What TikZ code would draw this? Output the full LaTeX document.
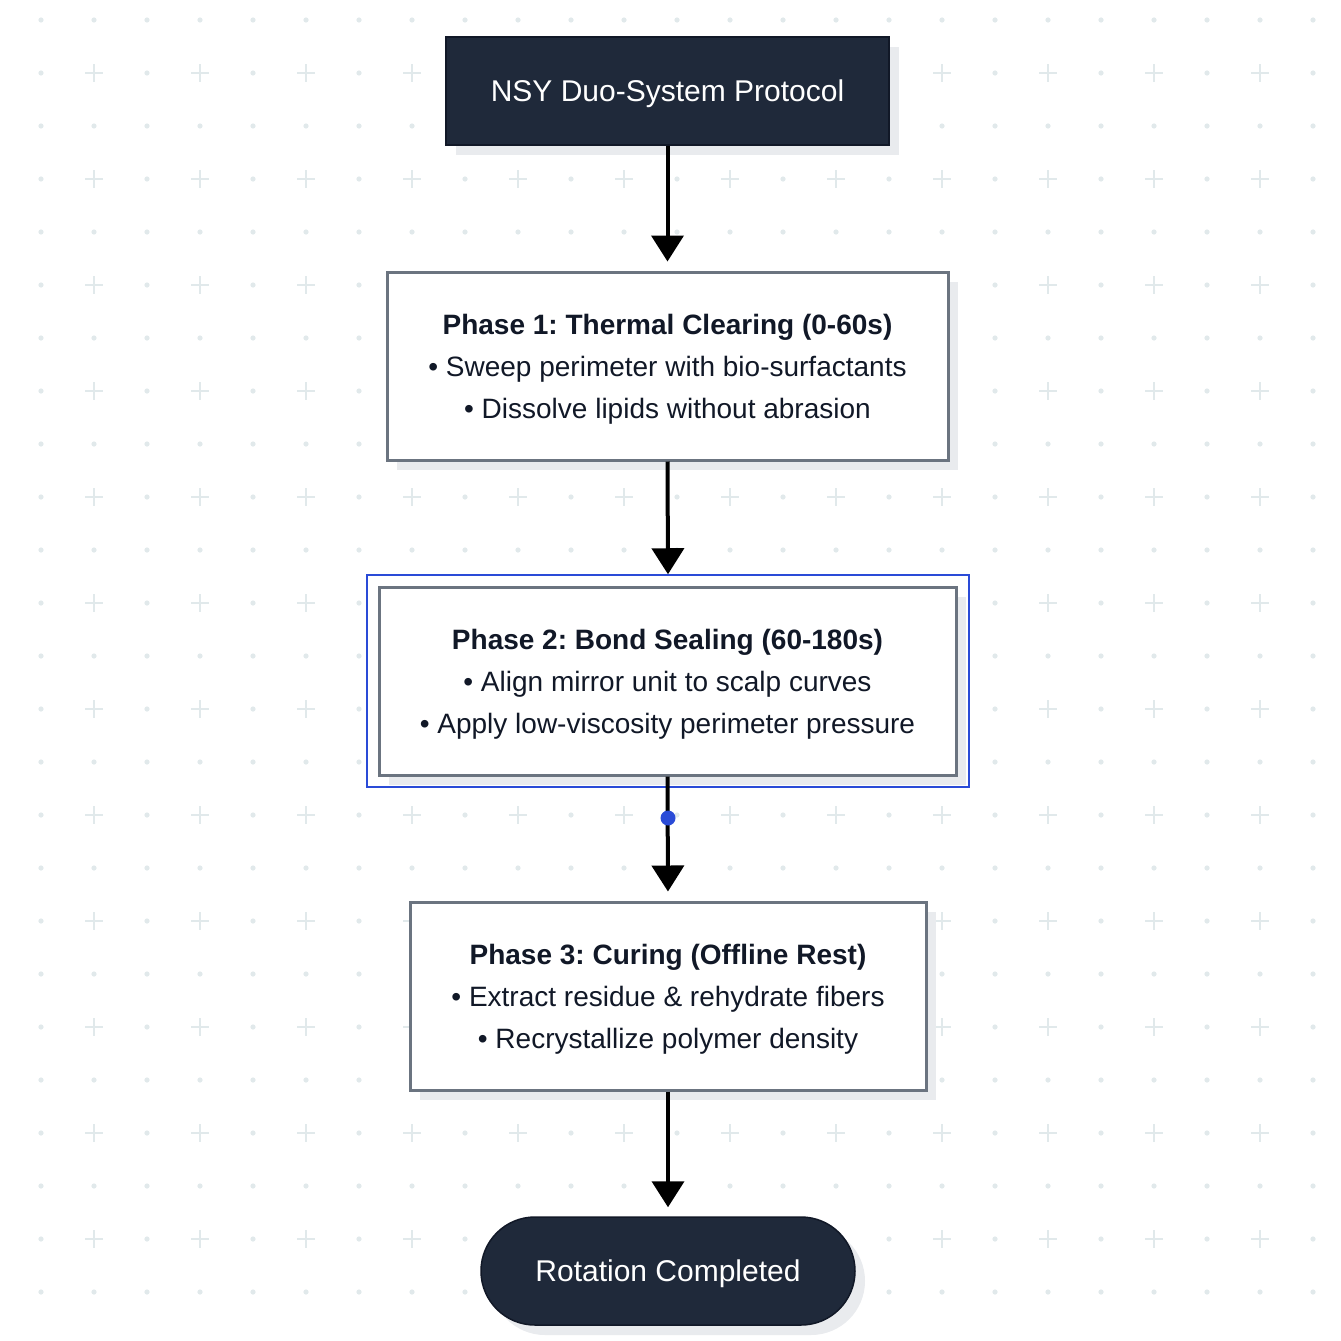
\documentclass[tikz,border=0pt]{standalone}
\usepackage{fontspec}
\setmainfont{Liberation Sans}
\frenchspacing
\usetikzlibrary{arrows.meta,shapes.misc}
\definecolor{navy}{HTML}{1F293A}
\definecolor{navyedge}{HTML}{111827}
\definecolor{boxedge}{HTML}{6B7480}
\definecolor{txt}{HTML}{111827}
\definecolor{selblue}{HTML}{2A4BD7}
\definecolor{gridc}{HTML}{E1E9EB}
\definecolor{shadowc}{HTML}{E9EBEE}
\newcommand{\mylines}[2][-2pt]{\raisebox{#1}[\height][\depth]{\begin{tabular}{@{}c@{}}#2\end{tabular}}}
\tikzset{
  darkbox/.style={rectangle, fill=navy, draw=navyedge, line width=1.5pt, text=white,
    font=\fontsize{30}{36}\selectfont, inner sep=0pt},
  phasebox/.style={rectangle, fill=white, draw=boxedge, line width=3pt, text=txt,
    font=\fontsize{28}{42}\selectfont, inner sep=0pt},
  pill/.style={rounded rectangle, fill=navy, draw=navyedge, line width=1.5pt, text=white,
    font=\fontsize{30}{36}\selectfont, inner sep=0pt},
  flow/.style={line width=4pt, draw=black, -{Triangle[length=26pt,width=32pt]}, shorten >=9pt},
  shadowbox/.style={fill=shadowc, draw=none},
}
\begin{document}
\begin{tikzpicture}[x=1pt,y=-1pt]
\useasboundingbox (0,0) rectangle (1341,1341);
\fill[white] (0,0) rectangle (1341,1341);
% background grid
\foreach \k in {0,...,24}{
  \foreach \j in {0,...,24}{
    \pgfmathtruncatemacro{\px}{41+53*\k}
    \pgfmathtruncatemacro{\py}{20+53*\j}
    \pgfmathtruncatemacro{\isplus}{and(mod(\k,2)==1,mod(\j,2)==1)}
    \ifnum\isplus=1
      \draw[gridc, line width=2.8pt] (\px-9,\py) -- (\px+9,\py) (\px,\py-9) -- (\px,\py+9);
    \else
      \fill[gridc] (\px,\py) circle (2.6);
    \fi
  }
}
% shadows
\fill[shadowbox] (456,47) rectangle (899,155);
\fill[shadowbox] (397,282) rectangle (958,470);
\fill[shadowbox] (389,597) rectangle (966,785);
\fill[shadowbox] (420,912) rectangle (936,1100);
\fill[shadowbox, rounded corners=54pt] (491,1227) rectangle (865,1335);
% nodes
\node[darkbox, minimum width=443pt, minimum height=108pt] (top) at (667.5,91) {\mylines[-3pt]{NSY Duo-System Protocol}};
\node[phasebox, minimum width=561pt, minimum height=188pt] (p1) at (667.5,366)
  {\mylines{\textbf{Phase 1: Thermal Clearing (0-60s)}\\ • Sweep perimeter with bio-surfactants\\ • Dissolve lipids without abrasion}};
\node[draw=selblue, line width=1.5pt, minimum width=602pt, minimum height=212pt, inner sep=0pt] (sel) at (668,681) {};
\node[phasebox, minimum width=577pt, minimum height=188pt] (p2) at (667.5,681)
  {\mylines{\textbf{Phase 2: Bond Sealing (60-180s)}\\ • Align mirror unit to scalp curves\\ • Apply low-viscosity perimeter pressure}};
\node[phasebox, minimum width=516pt, minimum height=188pt] (p3) at (668,996)
  {\mylines{\textbf{Phase 3: Curing (Offline Rest)}\\ • Extract residue \& rehydrate fibers\\ • Recrystallize polymer density}};
\node[pill, minimum width=374pt, minimum height=108pt] (end) at (668,1271) {\mylines[-3pt]{Rotation Completed}};
% connectors
\draw[flow] (top.south) -- (p1.north);
\draw[flow, shorten >=0pt] (p1.south) -- (sel.north);
\draw[flow] (p2.south) -- (p3.north);
\draw[flow] (p3.south) -- (end.north);
\node[circle, fill=selblue, minimum size=15pt, inner sep=0pt] (dot) at (668,818) {};
\end{tikzpicture}
\end{document}
